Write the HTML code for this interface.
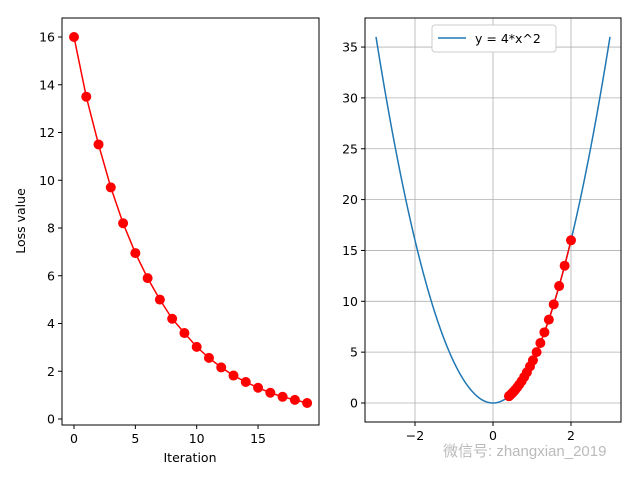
<!DOCTYPE html>
<html><head><meta charset="utf-8"><style>
body{margin:0;background:#fff;width:640px;height:480px;overflow:hidden}
svg text{font-family:"DejaVu Sans","Liberation Sans",sans-serif;font-size:12.5px;fill:#000}
</style></head><body>
<svg id="c" width="640" height="480" xmlns="http://www.w3.org/2000/svg"></svg>
<script>
const iterations=[0,1,2,3,4,5,6,7,8,9,10,11,12,13,14,15,16,17,18,19];
const losses=[16,13.5,11.5,9.7,8.2,6.95,5.9,5.0,4.2,3.6,3.02,2.56,2.16,1.82,1.55,1.31,1.1,0.93,0.8,0.67];
const leftXTicks=[0,5,10,15];
const leftYTicks=[0,2,4,6,8,10,12,14,16];
const rightXTicks=[-2,0,2];
const rightYTicks=[0,5,10,15,20,25,30,35];
const curveRange=[-3,3];
const legendLabel="y = 4*x^2";

const svg=document.getElementById('c');
const NS="http://www.w3.org/2000/svg";
function mk(tag,attrs,parent,text){const e=document.createElementNS(NS,tag);for(const k in attrs)e.setAttribute(k,attrs[k]);if(text!==undefined)e.textContent=text;(parent||svg).appendChild(e);return e;}

const L={x0:62,x1:319,y0:18,y1:425};
const lx=v=>74+v*12.27, ly=v=>419-v*23.875;
const gl=mk('g',{});


mk('rect',{x:L.x0,y:L.y0,width:L.x1-L.x0,height:L.y1-L.y0,fill:'#fff',stroke:'#000','stroke-width':1},gl);
leftXTicks.forEach(t=>{const x=lx(t);mk('line',{x1:x,x2:x,y1:L.y1,y2:L.y1+4,stroke:'#000'},gl);const tx=mk('text',{x:x,y:L.y1+18,'text-anchor':'middle'},gl,t);});
leftYTicks.forEach(t=>{const y=ly(t);mk('line',{x1:L.x0-4,x2:L.x0,y1:y,y2:y,stroke:'#000'},gl);const tx=mk('text',{x:L.x0-7,y:y+4.5,'text-anchor':'end'},gl,t);});
const xt=mk('text',{x:190,y:462,'text-anchor':'middle'},gl,'Iteration');

const yt=mk('text',{x:25,y:221,'text-anchor':'middle',transform:'rotate(-90 25 221)'},gl,'Loss value');

const lline=mk('polyline',{points:iterations.map((it,i)=>lx(it)+','+ly(losses[i])).join(' '),fill:'none',stroke:'#ff0000','stroke-width':1.5},gl);

iterations.forEach((it,i)=>{const c=mk('circle',{cx:lx(it),cy:ly(losses[i]),r:5,fill:'#ff0000'},gl);});

const R={x0:365,x1:621,y0:18,y1:422};
const rx=v=>493+v*39, ry=v=>403-v*10.17;
const gr=mk('g',{});


mk('rect',{x:R.x0,y:R.y0,width:R.x1-R.x0,height:R.y1-R.y0,fill:'#fff',stroke:'#000','stroke-width':1},gr);
rightXTicks.forEach(t=>{const x=rx(t);mk('line',{x1:x,x2:x,y1:R.y0,y2:R.y1,stroke:'#b0b0b0','stroke-width':0.8},gr);mk('line',{x1:x,x2:x,y1:R.y1,y2:R.y1+4,stroke:'#000'},gr);const tx=mk('text',{x:x,y:R.y1+18,'text-anchor':'middle'},gr,t<0?'\u2212'+(-t):t);});
rightYTicks.forEach(t=>{const y=ry(t);mk('line',{x1:R.x0,x2:R.x1,y1:y,y2:y,stroke:'#b0b0b0','stroke-width':0.8},gr);mk('line',{x1:R.x0-4,x2:R.x0,y1:y,y2:y,stroke:'#000'},gr);const tx=mk('text',{x:R.x0-7,y:y+4.5,'text-anchor':'end'},gr,t);});
mk('rect',{x:R.x0,y:R.y0,width:R.x1-R.x0,height:R.y1-R.y0,fill:'none',stroke:'#000','stroke-width':1},gr);
const pts=[];for(let i=0;i<=200;i++){const x=curveRange[0]+(curveRange[1]-curveRange[0])*i/200;pts.push(rx(x)+','+ry(4*x*x));}
const curve=mk('polyline',{points:pts.join(' '),fill:'none',stroke:'#1f77b4','stroke-width':1.5},gr);

const xs=losses.map(l=>Math.sqrt(l/4));
const rl=mk('polyline',{points:xs.map((x,i)=>rx(x)+','+ry(losses[i])).join(' '),fill:'none',stroke:'#ff0000','stroke-width':1.5},gr);

xs.forEach((x,i)=>{const c=mk('circle',{cx:rx(x),cy:ry(losses[i]),r:5,fill:'#ff0000'},gr);});
const lg=mk('g',{},gr);

mk('rect',{x:432,y:25,width:124,height:27,rx:3,fill:'#fff',stroke:'#ccc'},lg);
mk('line',{x1:438,x2:466,y1:38,y2:38,stroke:'#1f77b4','stroke-width':1.5},lg);
const lt=mk('text',{x:475,y:43},lg,legendLabel);

const wm=mk('text',{x:443,y:456,style:'font-size:15px;fill:#bbb;font-family:"Liberation Sans","Noto Sans CJK SC",sans-serif'},svg,'微信号: zhangxian_2019');

</script>
</body></html>
